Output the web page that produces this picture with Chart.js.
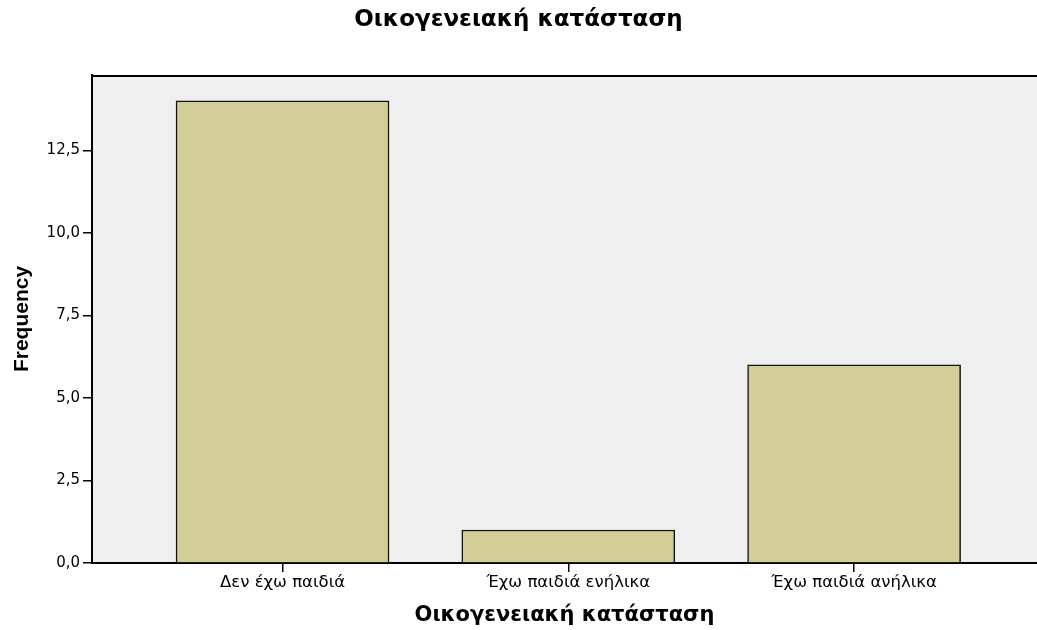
<!DOCTYPE html>
<html><head><meta charset="utf-8">
<script src="https://cdn.jsdelivr.net/npm/chart.js@4"></script>
<style>html,body{margin:0;padding:0;background:#fff}#wrap{width:1037px;height:630px}</style>
</head><body><div id="wrap"><canvas id="c" width="1037" height="630"></canvas></div>
<script>
const chartTitle = "Οικογενειακή κατάσταση";
const categories = ["Δεν έχω παιδιά", "Έχω παιδιά ενήλικα", "Έχω παιδιά ανήλικα"];
const frequencies = [14, 1, 6];
const yTicks = [0, 2.5, 5, 7.5, 10, 12.5];
const yLabel = "Frequency";

const bgPlugin = {
  id: 'bgPlugin',
  beforeDraw(chart) {
    const {ctx, chartArea: a} = chart;
    ctx.save();
    ctx.fillStyle = '#efefef';
    ctx.fillRect(a.left, a.top, a.right - a.left, a.bottom - a.top);
    ctx.restore();
  },
  afterDraw(chart) {
    const {ctx, chartArea: a} = chart;
    ctx.save();
    ctx.strokeStyle = '#000';
    ctx.lineWidth = 2;
    ctx.beginPath();
    ctx.moveTo(a.left, a.top + 1);
    ctx.lineTo(a.right, a.top + 1);
    ctx.stroke();
    ctx.restore();
  }
};

new Chart(document.getElementById('c'), {
  type: 'bar',
  data: {
    datasets: [{
      data: frequencies.map((v, i) => ({x: i, y: v})),
      backgroundColor: '#d3ce97',
      borderColor: '#111',
      borderWidth: 1.5,
      barThickness: 213
    }]
  },
  options: {
    responsive: false,
    animation: false,
    layout: {padding: {left: 0, right: 0, top: 0, bottom: 0}},
    plugins: {
      legend: {display: false},
      tooltip: {enabled: false},
      title: {
        display: true, text: chartTitle, color: '#000',
        font: {family: 'DejaVu Sans', size: 23, weight: 'bold'},
        padding: {top: 6, bottom: 41.4}
      }
    },
    scales: {
      x: {
        type: 'linear', min: -0.6667, max: 2.64, offset: false,
        afterBuildTicks(s) { s.ticks = categories.map((c, i) => ({value: i})); },
        afterFit(s) { s.height = 67; },
        grid: {offset: false, drawOnChartArea: false, drawTicks: true, tickLength: 9, color: '#000', lineWidth: 1.5},
        border: {color: '#000', width: 2},
        ticks: {
          color: '#000', font: {family: 'DejaVu Sans', size: 16.5}, padding: 1, maxRotation: 0,
          callback: (v) => categories[v]
        },
        title: {display: true, text: chartTitle, color: '#000',
          font: {family: 'DejaVu Sans', size: 21, weight: 'bold'}, padding: {top: 2, bottom: 2}}
      },
      y: {
        min: 0, max: 14.78,
        afterBuildTicks(s) { s.ticks = yTicks.map(v => ({value: v})); },
        afterFit(s) { s.width = 92; },
        grid: {drawOnChartArea: false, drawTicks: true, tickLength: 9, color: '#000', lineWidth: 1.5},
        border: {color: '#000', width: 2},
        ticks: {
          color: '#000', font: {family: 'DejaVu Sans', size: 15}, padding: 3,
          callback: (v) => v.toFixed(1).replace('.', ',')
        },
        title: {display: true, text: yLabel, color: '#000',
          font: {family: 'Liberation Sans', size: 21, weight: 'bold'}, padding: {top: 10, bottom: 10}}
      }
    }
  },
  plugins: [bgPlugin]
});
</script></body></html>
